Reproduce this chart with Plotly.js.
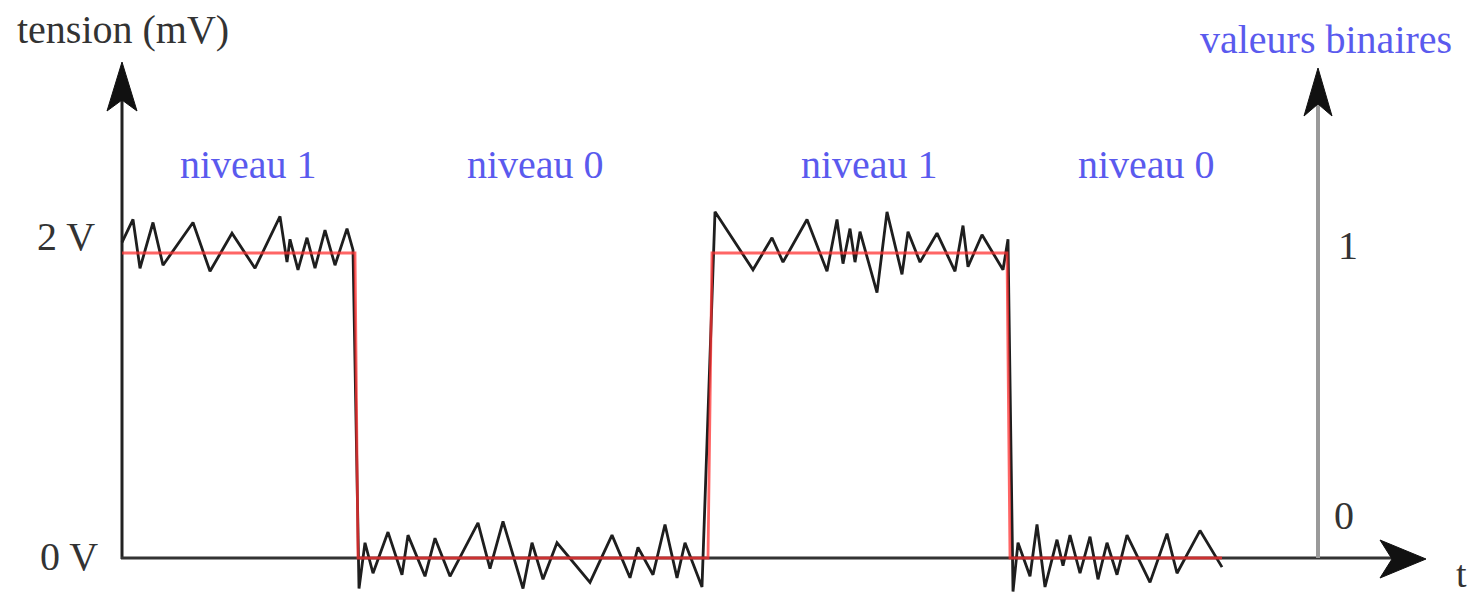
<!DOCTYPE html>
<html>
<head>
<meta charset="utf-8">
<script src="https://cdn.plot.ly/plotly-3.0.1.min.js"></script>
<style>html,body{margin:0;padding:0;background:#fff;}#chart{width:1470px;height:598px;}</style>
</head>
<body>
<div id="chart"></div>
<script>
// ideal binary signal (time units, volts)
const idealT = [122, 355, 358, 708, 712, 1007, 1010, 1222];
const idealV = [2, 2, 0, 0, 2, 2, 0, 0];

// measured noisy signal (time units, volts)
const noisyT = [122, 133, 140, 153, 163, 193, 210, 232, 255, 280, 287, 290, 298, 307, 315, 325, 335, 347, 353,
  359, 365, 373, 388, 402, 408, 425, 435, 450, 478, 490, 503, 523, 532, 543, 557, 590, 612, 630, 638, 653, 665, 677, 685, 702,
  715, 753, 772, 783, 807, 827, 837, 843, 850, 855, 860, 877, 887, 902, 908, 920, 937, 955, 963, 968, 982, 1003, 1008,
  1013, 1018, 1030, 1037, 1045, 1057, 1063, 1070, 1080, 1090, 1098, 1107, 1117, 1127, 1150, 1167, 1177, 1200, 1222];
const noisyV = [2.07, 2.22, 1.90, 2.20, 1.92, 2.20, 1.88, 2.13, 1.90, 2.24, 1.94, 2.09, 1.89, 2.10, 1.90, 2.15, 1.92, 2.16, 2.02,
  -0.20, 0.10, -0.10, 0.17, -0.11, 0.15, -0.12, 0.13, -0.12, 0.23, -0.07, 0.24, -0.20, 0.10, -0.14, 0.10, -0.16, 0.15, -0.13, 0.07, -0.11, 0.22, -0.13, 0.10, -0.19,
  2.27, 1.89, 2.10, 1.94, 2.22, 1.88, 2.22, 1.93, 2.16, 1.94, 2.14, 1.74, 2.27, 1.86, 2.14, 1.94, 2.13, 1.88, 2.18, 1.91, 2.12, 1.89, 2.09,
  -0.22, 0.10, -0.12, 0.22, -0.19, 0.12, -0.05, 0.15, -0.10, 0.14, -0.14, 0.10, -0.11, 0.15, -0.16, 0.16, -0.10, 0.18, -0.06];

// level labels
const levelT = [248, 535, 869, 1146];
const levelText = ['niveau 1', 'niveau 0', 'niveau 1', 'niveau 0'];
const yTickV = [2, 0];
const yTickText = ['2 V', '0 V'];
const binText = ['1', '0'];

const W = 1470, H = 598;
const px = x => x / W;
const py = y => 1 - y / H;
const serif = 'Liberation Serif, Times New Roman, serif';
const gray = '#333333';
const blue = '#5a5aee';

const traces = [
  {x: noisyT, y: noisyV, mode: 'lines', line: {color: '#1e1e1e', width: 2.8}, hoverinfo: 'skip'},
  {x: idealT, y: idealV, mode: 'lines', line: {color: 'rgba(255,50,50,0.75)', width: 2.8}, hoverinfo: 'skip'}
];

function pathP(pts) {
  return 'M' + pts.map(p => px(p[0]) + ',' + py(p[1])).join('L') + 'Z';
}

const shapes = [
  // axes lines
  {type: 'line', xref: 'paper', yref: 'paper', x0: px(122), x1: px(122), y0: py(559), y1: py(100), line: {color: '#222', width: 3}, layer: 'below'},
  {type: 'line', xref: 'paper', yref: 'paper', x0: px(121), x1: px(1395), y0: py(558), y1: py(558), line: {color: '#333', width: 2.8}, layer: 'below'},
  {type: 'line', xref: 'paper', yref: 'paper', x0: px(1318), x1: px(1318), y0: py(558), y1: py(105), line: {color: '#9a9a9a', width: 4}, layer: 'below'},
  // arrow heads
  {type: 'path', xref: 'paper', yref: 'paper', path: pathP([[122, 62], [137, 111], [122, 100], [107, 111]]), fillcolor: '#111', line: {color: '#111', width: 1}},
  {type: 'path', xref: 'paper', yref: 'paper', path: pathP([[1318, 68], [1332, 116], [1318, 104], [1304, 116]]), fillcolor: '#111', line: {color: '#111', width: 1}},
  {type: 'path', xref: 'paper', yref: 'paper', path: pathP([[1426, 559], [1380, 578], [1392, 559], [1380, 540]]), fillcolor: '#111', line: {color: '#111', width: 1}}
];

const ann = [];
function txt(text, x, y, color, xanchor, size) {
  ann.push({text: text, xref: 'paper', yref: 'paper', x: px(x), y: py(y), xanchor: xanchor || 'center', yanchor: 'middle',
    showarrow: false, font: {family: serif, size: size || 40, color: color}});
}
txt('tension (mV)', 15, 30, gray, 'left');
txt('valeurs binaires', 1454, 40, blue, 'right');
levelT.forEach((t, i) => {
  ann.push({text: levelText[i], x: t, xref: 'x', yref: 'paper', y: py(165), xanchor: 'center', yanchor: 'middle', showarrow: false,
    font: {family: serif, size: 40, color: blue}});
});
yTickV.forEach((v, i) => {
  ann.push({text: yTickText[i], x: px(i === 0 ? 97 : 100), xref: 'paper', y: v, yref: 'y', yshift: i === 0 ? 17 : 2,
    xanchor: 'right', yanchor: 'middle', showarrow: false, font: {family: serif, size: 40, color: gray}});
});
txt(binText[0], 1348, 245, gray);
txt(binText[1], 1344, 515, gray);
txt('t', 1461, 574, gray, 'center', 38);

const layout = {
  width: W, height: H,
  margin: {l: 0, r: 0, t: 0, b: 0},
  paper_bgcolor: '#fff', plot_bgcolor: '#fff',
  showlegend: false,
  xaxis: {range: [0, W], visible: false, fixedrange: true},
  yaxis: {range: [-40 / 152.5, 558 / 152.5], visible: false, fixedrange: true},
  shapes: shapes,
  annotations: ann
};

Plotly.newPlot('chart', traces, layout, {displayModeBar: false, staticPlot: true});
</script>
</body>
</html>
